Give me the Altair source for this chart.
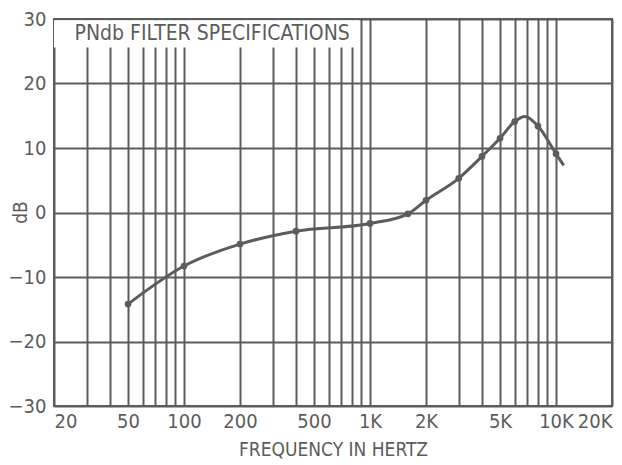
import altair as alt
import pandas as pd

# curve traced through the plotted points (Hz, dB)
curve_hz = [50, 100, 200, 400, 1000, 1600, 2000, 3000, 4000, 5000, 6000, 6800, 8000, 10000, 11000]
curve_db = [-14.2, -8.3, -4.9, -2.9, -1.7, -0.2, 1.9, 5.3, 8.7, 11.5, 14.1, 14.9, 13.4, 9.1, 7.3]

# specification points (dots)
dot_hz = [50, 100, 200, 400, 1000, 1600, 2000, 3000, 4000, 5000, 6000, 8000, 10000]
dot_db = [-14.2, -8.3, -4.9, -2.9, -1.7, -0.2, 1.9, 5.3, 8.7, 11.5, 14.1, 13.4, 9.1]

grid_hz = [20, 30, 40, 50, 60, 70, 80, 90, 100,
           200, 300, 400, 500, 600, 700, 800, 900, 1000,
           2000, 3000, 4000, 5000, 6000, 7000, 8000, 9000, 10000, 20000]
label_hz = [20, 50, 100, 200, 500, 1000, 2000, 5000, 10000, 20000]
db_ticks = [-30, -20, -10, 0, 10, 20, 30]

title_text = "PNdb FILTER SPECIFICATIONS"
box = pd.DataFrame({"x": [20], "x2": [880], "y": [29.8], "y2": [25.6]})
label_df = pd.DataFrame({"x": [25.8], "y": [27.6], "t": [title_text]})

curve = pd.DataFrame({"hz": curve_hz, "db": curve_db})
dots = pd.DataFrame({"hz": dot_hz, "db": dot_db})

INK = "#5b5d5b"
FONT = "Liberation Sans Narrow, DejaVu Sans Condensed, Roboto Condensed, Arial Narrow, sans-serif"

arr = "[" + ",".join(str(v) for v in label_hz) + "]"
label_expr = (f"indexof({arr}, datum.value) >= 0 ? "
              "(datum.value >= 1000 ? (datum.value/1000) + 'K' : '' + datum.value) : ''")

xscale = alt.Scale(type="log", domain=[20, 20000], nice=False)
yscale = alt.Scale(domain=[-30, 30], nice=False)

xaxis = alt.Axis(values=grid_hz, labelExpr=label_expr, title="FREQUENCY IN HERTZ",
                 grid=True, ticks=False, domain=False, labelPadding=5,
                 titlePadding=9, labelFlush=True, labelFlushOffset=0, labelOverlap=False)
yaxis = alt.Axis(values=db_ticks, title="dB", grid=True, ticks=False, domain=False,
                 labelPadding=8, titleX=-34, titleY=193, titleAlign="center",
                 titleBaseline="middle", titleAngle=270)

line = alt.Chart(curve).mark_line(color=INK, strokeWidth=3, interpolate="monotone").encode(
    x=alt.X("hz:Q", scale=xscale, axis=xaxis),
    y=alt.Y("db:Q", scale=yscale, axis=yaxis),
)

pts = alt.Chart(dots).mark_circle(color=INK, size=45, opacity=1).encode(
    x=alt.X("hz:Q", scale=xscale),
    y=alt.Y("db:Q", scale=yscale),
)

rect = alt.Chart(box).mark_rect(color="white").encode(
    x=alt.X("x:Q", scale=xscale), x2="x2:Q",
    y=alt.Y("y:Q", scale=yscale), y2="y2:Q",
)

txt = alt.Chart(label_df).mark_text(align="left", baseline="middle", fontSize=21,
                                    font=FONT, color=INK).encode(
    x=alt.X("x:Q", scale=xscale),
    y=alt.Y("y:Q", scale=yscale),
    text="t:N",
)

chart = alt.layer(line, rect, txt, pts).properties(
    width=558, height=387,
    autosize=alt.AutoSizeParams(type="none"),
    padding={"left": 46, "top": 11, "right": 2, "bottom": 57},
    background="white",
).configure_view(stroke=INK, strokeWidth=2).configure_axis(
    gridColor=INK, gridWidth=2, gridOpacity=1,
    labelColor=INK, titleColor=INK, labelFont=FONT, titleFont=FONT,
    labelFontSize=20, titleFontSize=19, titleFontWeight="normal",
)

chart.save("out.html", embed_options={"renderer": "svg", "actions": False})
